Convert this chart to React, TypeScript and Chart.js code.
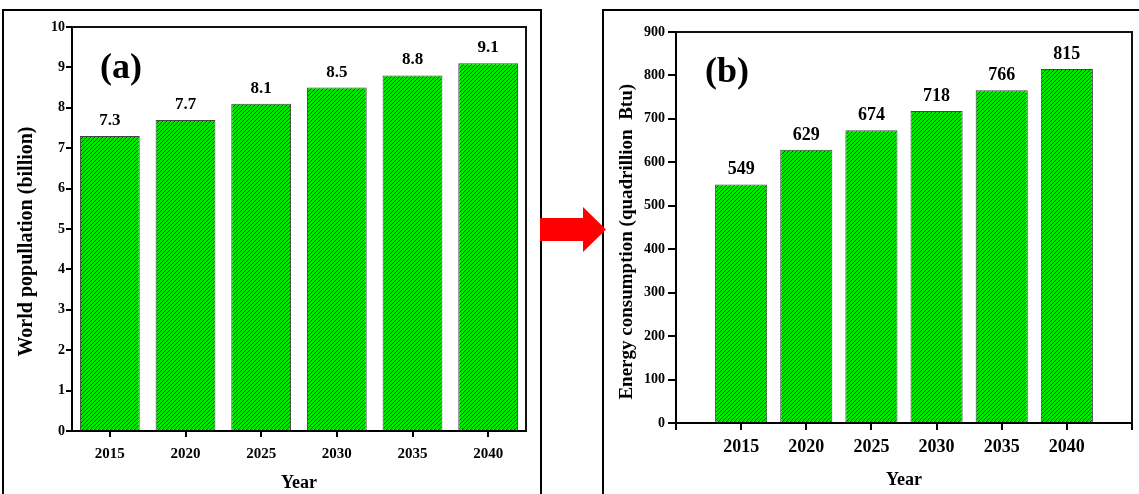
import React, { useEffect, useRef } from 'react';
import { Chart, registerables } from 'chart.js';

Chart.register(...registerables);

// ---------- data ----------
const yearLabels = ['2015', '2020', '2025', '2030', '2035', '2040'];
const yearValues = [2015, 2020, 2025, 2030, 2035, 2040];
const population = [7.3, 7.7, 8.1, 8.5, 8.8, 9.1];
const populationText = ['7.3', '7.7', '8.1', '8.5', '8.8', '9.1'];
const energy = [549, 629, 674, 718, 766, 815];
const energyText = ['549', '629', '674', '718', '766', '815'];
const leftTitle = 'World popullation (billion)';
const rightTitle = 'Energy consumption (quadrillion  Btu)';
const xTitle = 'Year';

const FONT = "'Liberation Serif', 'Times New Roman', Times, serif";

function makeHatch(): CanvasPattern | string {
  const c = document.createElement('canvas');
  c.width = 4;
  c.height = 4;
  const g = c.getContext('2d');
  if (!g) return '#00e000';
  g.fillStyle = '#00e800';
  g.fillRect(0, 0, 4, 4);
  g.strokeStyle = 'rgba(0,70,0,0.95)';
  g.lineWidth = 0.9;
  g.beginPath();
  g.moveTo(0, 4); g.lineTo(4, 0);
  g.moveTo(-1, 1); g.lineTo(1, -1);
  g.moveTo(3, 5); g.lineTo(5, 3);
  g.stroke();
  const p = g.createPattern(c, 'repeat');
  return p || '#00e000';
}

const framePlugin = {
  id: 'plotFrame',
  afterDraw(chart: any) {
    const { ctx, chartArea } = chart;
    ctx.save();
    ctx.strokeStyle = '#111';
    ctx.lineWidth = 2;
    ctx.beginPath();
    ctx.moveTo(chartArea.left, chartArea.top);
    ctx.lineTo(chartArea.right, chartArea.top);
    ctx.lineTo(chartArea.right, chartArea.bottom);
    ctx.stroke();
    ctx.restore();
  },
};

const textPlugin = {
  id: 'barTexts',
  afterDatasetsDraw(chart: any) {
    const o = chart.options.plugins.barTexts;
    if (!o) return;
    const { ctx } = chart;
    ctx.save();
    ctx.fillStyle = '#000';
    ctx.textAlign = 'center';
    ctx.textBaseline = 'alphabetic';
    ctx.font = `bold ${o.size}px ${FONT}`;
    const meta = chart.getDatasetMeta(0);
    meta.data.forEach((el: any, i: number) => {
      ctx.fillText(o.texts[i], el.x, el.y - o.gap);
    });
    ctx.textAlign = 'left';
    ctx.font = `bold ${o.tagSize}px ${FONT}`;
    ctx.fillText(o.tag, o.tagX, o.tagY);
    ctx.restore();
  },
};

function tickFont(size: number) {
  return { family: FONT, size, weight: 'bold' as const };
}

export default function App() {
  const leftRef = useRef<HTMLCanvasElement>(null);
  const rightRef = useRef<HTMLCanvasElement>(null);

  useEffect(() => {
    const hatch = makeHatch();
    const left = new Chart(leftRef.current as HTMLCanvasElement, {
      type: 'bar',
      data: {
        labels: yearLabels,
        datasets: [
          {
            data: population,
            backgroundColor: hatch as any,
            borderColor: '#444',
            borderWidth: 1,
            barPercentage: 0.79,
            categoryPercentage: 1,
          },
        ],
      },
      options: {
        animation: false,
        responsive: false,
        maintainAspectRatio: false,
        layout: { padding: { top: 27, right: 19, left: 0, bottom: 0 } },
        plugins: {
          legend: { display: false },
          tooltip: { enabled: false },
          barTexts: { texts: populationText, size: 17, gap: 11, tag: '(a)', tagSize: 36, tagX: 100, tagY: 78 },
        } as any,
        scales: {
          x: {
            type: 'category',
            offset: true,
            grid: { offset: false, drawOnChartArea: false, color: '#000', lineWidth: 2, tickLength: 6 },
            border: { color: '#000', width: 2 },
            ticks: { color: '#000', font: tickFont(15), padding: 8, maxRotation: 0 },
            title: { display: true, text: xTitle, color: '#000', font: tickFont(18), padding: { top: 0, bottom: 0 } },
            afterFit: (s: any) => { s.height = 63; },
          },
          y: {
            min: 0,
            max: 10,
            grid: { drawOnChartArea: false, color: '#000', lineWidth: 2, tickLength: 6 },
            border: { color: '#000', width: 2 },
            ticks: { stepSize: 1, color: '#000', font: tickFont(14), padding: 1 },
            title: { display: true, text: leftTitle + '     ', color: '#000', font: tickFont(20), padding: { top: 15, bottom: 0 } },
            afterFit: (s: any) => { s.width = 72; },
          },
        },
      },
      plugins: [framePlugin, textPlugin],
    });

    const right = new Chart(rightRef.current as HTMLCanvasElement, {
      type: 'bar',
      data: {
        datasets: [
          {
            data: yearValues.map((x, i) => ({ x, y: energy[i] })),
            backgroundColor: hatch as any,
            borderColor: '#444',
            borderWidth: 1,
            barPercentage: 0.8,
            categoryPercentage: 1,
          },
        ],
      },
      options: {
        animation: false,
        responsive: false,
        maintainAspectRatio: false,
        layout: { padding: { top: 32, right: 2, left: 0, bottom: 0 } },
        plugins: {
          legend: { display: false },
          tooltip: { enabled: false },
          barTexts: { texts: energyText, size: 18, gap: 10, tag: '(b)', tagSize: 36, tagX: 101, tagY: 82 },
        } as any,
        scales: {
          x: {
            type: 'linear',
            min: 2010,
            max: 2045,
            offset: false,
            grid: { offset: false, drawOnChartArea: false, color: '#000', lineWidth: 2, tickLength: 7 },
            border: { color: '#000', width: 2 },
            ticks: {
              stepSize: 5,
              color: '#000',
              font: tickFont(18),
              padding: 7,
              maxRotation: 0,
              autoSkip: false,
              callback: (v: any) => (v === 2010 || v === 2045 ? '' : String(v)),
            },
            title: { display: true, text: xTitle, color: '#000', font: tickFont(18), padding: { top: 0, bottom: 3 } },
            afterFit: (s: any) => { s.height = 71; },
          },
          y: {
            min: 0,
            max: 900,
            grid: { drawOnChartArea: false, color: '#000', lineWidth: 2, tickLength: 8 },
            border: { color: '#000', width: 2 },
            ticks: { stepSize: 100, color: '#000', font: tickFont(14), padding: 3 },
            title: { display: true, text: rightTitle + '      ', color: '#000', font: tickFont(19), padding: { top: 12, bottom: 0 } },
            afterFit: (s: any) => { s.width = 72; },
          },
        },
      },
      plugins: [framePlugin, textPlugin],
    });

    return () => {
      left.destroy();
      right.destroy();
    };
  }, []);

  return (
    <div style={{ position: 'absolute', left: 0, top: 0, width: 1139, height: 494, overflow: 'hidden', background: '#fff' }}>
      <div style={{ position: 'absolute', left: 2, top: 9, width: 540, height: 500, border: '2px solid #000', boxSizing: 'border-box' }} />
      <div style={{ position: 'absolute', left: 602, top: 9, width: 600, height: 500, border: '2px solid #000', boxSizing: 'border-box' }} />
      <canvas ref={leftRef} width={545} height={494} style={{ position: 'absolute', left: 0, top: 0 }} />
      <canvas ref={rightRef} width={535} height={494} style={{ position: 'absolute', left: 604, top: 0 }} />
      <svg width={1139} height={494} style={{ position: 'absolute', left: 0, top: 0, pointerEvents: 'none' }}>
        <polygon points="540,218 583,218 583,207 606,229.5 583,252 583,241 540,241" fill="#ff0000" />
      </svg>
    </div>
  );
}
